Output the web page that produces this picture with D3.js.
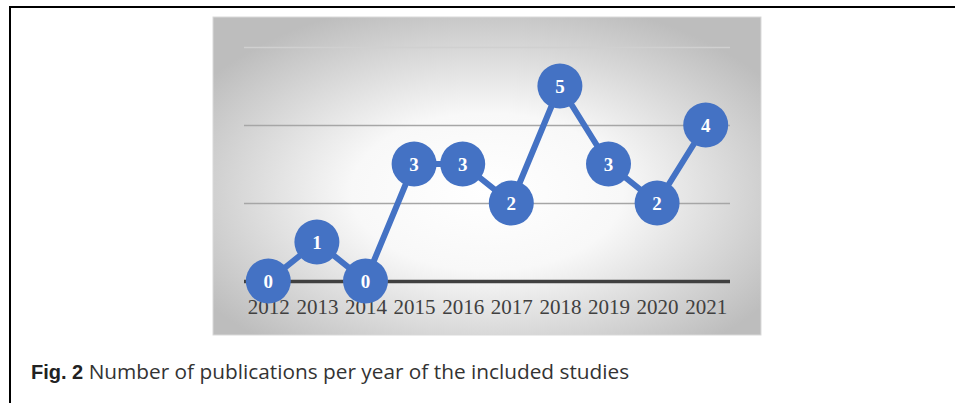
<!DOCTYPE html>
<html>
<head>
<meta charset="utf-8">
<script src="https://cdn.jsdelivr.net/npm/d3@7"></script>
<style>
  body { margin: 0; background: #fff; }
  svg { display: block; }
</style>
</head>
<body>
<div id="content"></div>
<script>
// publications per year
var years = ["2012", "2013", "2014", "2015", "2016", "2017", "2018", "2019", "2020", "2021"];
var counts = [0, 1, 0, 3, 3, 2, 5, 3, 2, 4];
var yTicks = [0, 2, 4, 6];

var W = 955, H = 403;
var box = {x: 213, y: 17, w: 548, h: 318};
var margin = {top: 47, left: 244, right: 225, bottom: 122};
var width = W - margin.left - margin.right;
var height = H - margin.top - margin.bottom;

var svg = d3.select("#content").append("svg")
  .attr("width", W).attr("height", H);

var defs = svg.append("defs");
var grad = defs.append("radialGradient")
  .attr("id", "bg").attr("cx", "0.5").attr("cy", "0.55").attr("r", "0.62");
grad.append("stop").attr("offset", "0").attr("stop-color", "#ffffff");
grad.append("stop").attr("offset", "0.4").attr("stop-color", "#f8f8f8");
grad.append("stop").attr("offset", "1").attr("stop-color", "#bdbdbd");

// figure frame (top + left rules)
svg.append("line").attr("x1", 9).attr("x2", W).attr("y1", 7).attr("y2", 7)
  .attr("stroke", "#000").attr("stroke-width", 2);
svg.append("line").attr("x1", 10).attr("x2", 10).attr("y1", 6).attr("y2", H)
  .attr("stroke", "#000").attr("stroke-width", 2);

// chart area
svg.append("rect")
  .attr("x", box.x).attr("y", box.y).attr("width", box.w).attr("height", box.h)
  .attr("fill", "url(#bg)")
  .attr("stroke", "#d9d9d9").attr("stroke-width", 1);

var g = svg.append("g")
  .attr("transform", "translate(" + margin.left + "," + margin.top + ")");

var x = d3.scalePoint().domain(years).range([0, width]).padding(0.5);
var y = d3.scaleLinear().domain([0, 6]).range([height, 0]);

// gridlines
var grid = g.append("g")
  .call(d3.axisLeft(y).tickValues(yTicks).tickSize(-width).tickFormat(""));
grid.select(".domain").remove();
grid.selectAll(".tick line")
  .attr("stroke", function(d) { return d === 0 ? "#404040" : (d === 6 ? "#d0d0d0" : "#a6a6a6"); })
  .attr("stroke-width", function(d) { return d === 0 ? 3.5 : 1.5; });

// x axis labels
var xa = g.append("g")
  .attr("transform", "translate(0," + height + ")")
  .call(d3.axisBottom(x).tickSize(0).tickPadding(18));
xa.select(".domain").remove();
xa.selectAll("text")
  .attr("fill", "#404040")
  .style("font-family", "'Liberation Serif', 'Times New Roman', serif")
  .style("font-size", "21px");

// line
var line = d3.line()
  .x(function(d, i) { return x(years[i]); })
  .y(function(d) { return y(d); });

g.append("path")
  .datum(counts)
  .attr("fill", "none")
  .attr("stroke", "#4472C4")
  .attr("stroke-width", 6)
  .attr("stroke-linejoin", "round")
  .attr("d", line);

// markers with labels
var pts = g.selectAll(".pt")
  .data(counts)
  .enter().append("g")
  .attr("class", "pt")
  .attr("transform", function(d, i) { return "translate(" + x(years[i]) + "," + y(d) + ")"; });

pts.append("circle")
  .attr("r", 22.5)
  .attr("fill", "#4472C4");

pts.append("text")
  .attr("text-anchor", "middle")
  .attr("dy", "0.35em")
  .attr("fill", "#fff")
  .style("font-family", "'Liberation Serif', 'Times New Roman', serif")
  .style("font-weight", "bold")
  .style("font-size", "19px")
  .text(function(d) { return d; });

// caption
var cap = svg.append("text")
  .attr("x", 31).attr("y", 379)
  .attr("fill", "#222");
cap.append("tspan")
  .style("font-family", "'Liberation Sans', Arial, sans-serif")
  .style("font-weight", "bold")
  .style("font-size", "20px")
  .text("Fig. 2");
cap.append("tspan")
  .style("font-family", "'Open Sans', sans-serif")
  .style("font-size", "20.8px")
  .attr("fill", "#333")
  .text(" Number of publications per year of the included studies");
</script>
</body>
</html>
